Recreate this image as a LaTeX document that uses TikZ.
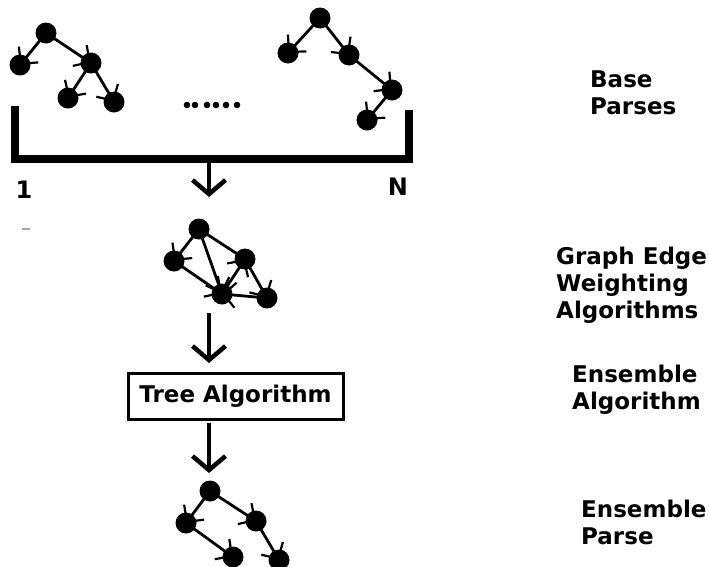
\documentclass[tikz,border=0pt]{standalone}
\usepackage{fontspec}
\setmainfont{DejaVu Sans}[BoldFont={DejaVu Sans Bold}]
\usetikzlibrary{arrows.meta}
\begin{document}
\begin{tikzpicture}[x=1pt,y=-1pt,
  vtx/.style={circle,fill=black,minimum size=21pt,inner sep=0pt},
  edge/.style={line width=2.8pt,-{Straight Barb[length=12pt,width=25pt,line width=2.2pt]}},
  plain/.style={line width=2.8pt},
  flow/.style={line width=4.5pt,-{Straight Barb[length=14pt,width=33pt,line width=4.5pt]}},
  label/.style={font=\fontsize{23}{27}\selectfont\bfseries,align=left,anchor=west,inner sep=0pt},
  idx/.style={font=\fontsize{24}{28}\selectfont\bfseries,inner sep=0pt},
  bracket/.style={line width=8pt}]
\useasboundingbox (0,0) rectangle (709,566);

% ---- base parse 1 ----
\coordinate (a1) at (46,33);
\coordinate (b1) at (20,65);
\coordinate (c1) at (91,63);
\coordinate (d1) at (68,98);
\coordinate (e1) at (114,102);
\draw[edge] (a1) -- (b1);
\draw[edge] (a1) -- (c1);
\draw[edge] (c1) -- (d1);
\draw[edge] (c1) -- (e1);
\foreach \n in {a1,b1,c1,d1,e1} \node[vtx] at (\n) {};

% ---- base parse N ----
\coordinate (aN) at (320,18);
\coordinate (bN) at (288,53);
\coordinate (cN) at (349,55);
\coordinate (dN) at (392,90);
\coordinate (eN) at (367,120);
\draw[edge] (aN) -- (bN);
\draw[edge] (aN) -- (cN);
\draw[edge] (cN) -- (dN);
\draw[edge] (dN) -- (eN);
\foreach \n in {aN,bN,cN,dN,eN} \node[vtx] at (\n) {};

% ---- ellipsis between the parses ----
\foreach \x in {187,195,207,216,226,237} \fill (\x,105) circle (3.3pt);

% ---- bracket grouping parses 1..N ----
\coordinate (bl) at (15,106);
\coordinate (blc) at (15,159);
\coordinate (brc) at (408.5,159);
\coordinate (br) at (408.5,110);
\draw[bracket] (bl) -- (blc) -- (brc) -- (br);
\node[idx] (one) at (24,190) {1};
\node[idx] (nn) at (398,187) {N};
\draw[gray!70,line width=1.5pt] (22,229) -- (30,229);

% ---- weighted graph ----
\coordinate (ga) at (199,229);
\coordinate (gb) at (174,261);
\coordinate (gc) at (245,259);
\coordinate (gd) at (222,294);
\coordinate (ge) at (267,298);
\draw[plain] (ga) -- (gc);
\draw[edge] (ga) -- (gb);
\draw[edge] (ga) -- (gd);
\draw[edge] (gb) -- (gd);
\draw[edge] (gd) -- (gc);
\draw[edge] (gc) -- (ge);
\draw[edge] (ge) -- (gd);
\foreach \n in {ga,gb,gc,gd,ge} \node[vtx] at (\n) {};

% ---- tree algorithm box ----
\node[draw,line width=3pt,minimum width=215pt,minimum height=46pt,
      font=\fontsize{23}{27}\selectfont\bfseries] (tree) at (235.5,396) {Tree Algorithm};

% ---- ensemble parse ----
\coordinate (pa) at (210,491);
\coordinate (pb) at (186,523);
\coordinate (pc) at (256,521);
\coordinate (pd) at (233,557);
\coordinate (pe) at (279,560);
\draw[edge] (pa) -- (pb);
\draw[edge] (pa) -- (pc);
\draw[edge] (pb) -- (pd);
\draw[edge] (pc) -- (pe);
\foreach \n in {pa,pb,pc,pd,pe} \node[vtx] at (\n) {};

% ---- flow arrows ----
\coordinate (f1s) at (209,163);
\coordinate (f1e) at (209,197);
\coordinate (f2s) at (209,313);
\coordinate (f2e) at (209,363);
\coordinate (f3s) at (209,423);
\coordinate (f3e) at (209,473);
\draw[flow] (f1s) -- (f1e);
\draw[flow] (f2s) -- (f2e);
\draw[flow] (f3s) -- (f3e);

% ---- stage labels ----
\node[label] (l1) at (590,93) {Base\\Parses};
\node[label] (l2) at (556,285) {Graph Edge\\Weighting\\Algorithms};
\node[label] (l3) at (572,390) {Ensemble\\Algorithm};
\node[label] (l4) at (581,522) {Ensemble\\Parse};
\end{tikzpicture}
\end{document}
